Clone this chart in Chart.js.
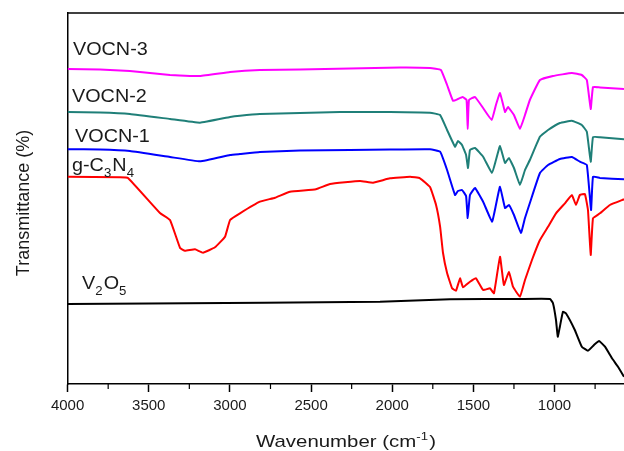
<!DOCTYPE html>
<html>
<head>
<meta charset="utf-8">
<script src="https://cdn.jsdelivr.net/npm/chart.js@4.4.0/dist/chart.umd.min.js"></script>
<style>
  html, body { margin: 0; padding: 0; background: #fff; }
  #wrap { width: 624px; height: 451px; }
</style>
</head>
<body>
<div id="wrap"><canvas id="ftir" width="624" height="451"></canvas></div>
<script>
// FTIR spectra - wavenumber (cm-1) and transmittance (offset, arbitrary units)
const xTicks = [4000, 3500, 3000, 2500, 2000, 1500, 1000];
const xMinorTicks = [3750, 3250, 2750, 2250, 1750, 1250, 750];

const vocn3Wn = [4000, 3800, 3616, 3369, 3184, 2999, 2815, 2568, 2260, 1952, 1767, 1700, 1662, 1625, 1595, 1566, 1542, 1535, 1527, 1490, 1440, 1387, 1361, 1336, 1305, 1287, 1250, 1213, 1182, 1152, 1090, 1010, 893, 832, 801, 777, 763, 720, 572];
const vocn3T  = [315, 314.5, 313, 309, 308, 312, 314, 314.5, 315.5, 316.5, 316, 314, 299, 283, 285, 287, 284, 255, 284, 287, 276, 264, 279, 291, 272, 277, 269, 255, 269, 284, 304, 308, 311, 309, 304, 275, 297, 296.5, 295];

const vocn2Wn = [4000, 3800, 3616, 3369, 3184, 2999, 2938, 2815, 2568, 2322, 2014, 1767, 1705, 1662, 1613, 1595, 1570, 1545, 1533, 1521, 1490, 1440, 1385, 1361, 1336, 1305, 1281, 1250, 1213, 1182, 1152, 1090, 1040, 967, 893, 832, 801, 777, 763, 720, 572];
const vocn2T  = [272, 271.5, 270, 265, 261.3, 267, 268.3, 270, 271, 272, 272, 271.3, 269, 254, 237.3, 243, 239, 229, 216, 234, 236, 227.3, 211, 224, 238, 221, 226, 216, 199, 214, 224, 247.3, 254, 261, 263.3, 259, 252.3, 222.3, 247, 246.7, 244.7];

const vocn1Wn = [4000, 3800, 3616, 3369, 3184, 2999, 2938, 2815, 2568, 2260, 2014, 1767, 1705, 1662, 1613, 1595, 1570, 1545, 1535, 1521, 1490, 1440, 1385, 1361, 1336, 1305, 1281, 1250, 1207, 1182, 1152, 1090, 1040, 967, 893, 844, 801, 775, 763, 720, 572];
const vocn1T  = [234.7, 234.5, 233, 227, 222.7, 229, 230, 232, 233.5, 234, 234.5, 234.7, 232.3, 214, 189, 193, 194, 188, 166, 189, 196, 182.3, 162.3, 179, 197.3, 176, 179, 169, 151, 166, 181, 211, 219, 225, 227, 222.3, 219, 174, 207.3, 206, 204.7];

const gcnWn = [4000, 3677, 3628, 3431, 3369, 3307, 3277, 3215, 3166, 3092, 3030, 2999, 2938, 2815, 2722, 2630, 2470, 2383, 2198, 2118, 2014, 1890, 1829, 1767, 1730, 1705, 1687, 1662, 1631, 1607, 1582, 1564, 1521, 1484, 1440, 1398, 1373, 1336, 1312, 1281, 1256, 1213, 1182, 1139, 1090, 1040, 991, 936, 893, 868, 844, 813, 794, 777, 763, 720, 659, 572];
const gcnT  = [207.3, 206.7, 206, 171, 164, 136, 133.3, 134.7, 131.3, 136.7, 147.3, 164, 170.7, 182.3, 186.3, 192.3, 194.7, 200, 203, 201.3, 205.7, 207.3, 205.7, 197, 179, 157.3, 131, 111, 95.7, 93.3, 105.7, 96.7, 102.3, 105.7, 94, 95.7, 90.7, 127.3, 99, 112.3, 97.3, 87.3, 104, 124, 144, 157.3, 170.7, 180.7, 189, 179, 189, 190, 174, 129, 165.7, 170.7, 179, 184.7];

const v2o5Wn = [4000, 3500, 2075, 1644, 1213, 1028, 1010, 991, 980, 967, 948, 930, 875, 832, 794, 757, 726, 689, 646, 609, 572];
const v2o5T  = [80, 80.5, 82.3, 84.7, 85, 85, 81, 64, 47.3, 57.3, 72.3, 70.7, 54, 37.3, 33.3, 39, 43, 37.3, 25.7, 17.3, 7.3];

const seriesNames = ['VOCN-3', 'VOCN-2', 'VOCN-1', 'g-C3N4', 'V2O5'];
const seriesColors = ['#ff00ff', '#1f7f78', '#0000ff', '#ff0000', '#000000'];

function toPoints(wn, t) {
  return wn.map((w, i) => ({ x: w, y: t[i] }));
}

const allSeries = [[vocn3Wn, vocn3T], [vocn2Wn, vocn2T], [vocn1Wn, vocn1T], [gcnWn, gcnT], [v2o5Wn, v2o5T]];

const FONT = '"Liberation Sans", Arial, sans-serif';
const TEXT = '#1a1a1a';

// text with sub/superscripts, drawn from the left at baseline y, stretched by hs
function richWidth(ctx, parts, size) {
  let w = 0;
  parts.forEach(([txt, kind]) => {
    ctx.font = (kind ? Math.round(size * 0.66) : size) + 'px ' + FONT;
    w += ctx.measureText(txt).width + (kind ? 1 : 0);
  });
  return w;
}
function drawRich(ctx, parts, x, y, size, hs) {
  ctx.save();
  ctx.translate(x, y);
  ctx.scale(hs, 1);
  let cx = 0;
  parts.forEach(([txt, kind]) => {
    const s = kind ? Math.round(size * 0.66) : size;
    ctx.font = s + 'px ' + FONT;
    const dy = kind === 'sub' ? size * 0.32 : kind === 'sup' ? -size * 0.42 : 0;
    ctx.fillText(txt, cx, dy);
    cx += ctx.measureText(txt).width + (kind ? 1 : 0);
  });
  ctx.restore();
}

const labelParts = [
  [['VOCN-3']],
  [['VOCN-2']],
  [['VOCN-1']],
  [['g-C'], ['3', 'sub'], ['N'], ['4', 'sub']],
  [['V'], ['2', 'sub'], ['O'], ['5', 'sub']]
];
const labelAnchors = [[3967, 329], [3973, 282], [3954, 242], [3973, 213], [3911, 95]];

const decorPlugin = {
  id: 'decor',
  afterDraw(chart) {
    const { ctx, chartArea: area, scales: { x, y } } = chart;
    ctx.save();
    // top frame line
    ctx.strokeStyle = '#000';
    ctx.lineWidth = 1.5;
    ctx.beginPath();
    ctx.moveTo(area.left, area.top);
    ctx.lineTo(area.right, area.top);
    ctx.stroke();
    // minor ticks
    ctx.lineWidth = 1.2;
    xMinorTicks.forEach(v => {
      const px = x.getPixelForValue(v);
      ctx.beginPath();
      ctx.moveTo(px, area.bottom);
      ctx.lineTo(px, area.bottom + 5);
      ctx.stroke();
    });
    // series labels
    ctx.fillStyle = TEXT;
    ctx.textBaseline = 'alphabetic';
    ctx.textAlign = 'left';
    labelParts.forEach((parts, i) => {
      const [wn, t] = labelAnchors[i];
      drawRich(ctx, parts, x.getPixelForValue(wn), y.getPixelForValue(t), 18, 1.1);
    });
    // x title
    const xt = [['Wavenumber (cm'], ['-1', 'sup'], [')']];
    const w = richWidth(ctx, xt, 17) * 1.2;
    drawRich(ctx, xt, 346 - w / 2, 447, 17, 1.2);
    // y title
    ctx.translate(29, 203);
    ctx.rotate(-Math.PI / 2);
    ctx.textAlign = 'center';
    ctx.font = '18px ' + FONT;
    ctx.fillText('Transmittance (%)', 0, 0);
    ctx.restore();
  }
};

new Chart(document.getElementById('ftir'), {
  type: 'line',
  data: {
    datasets: allSeries.map(([wn, t], i) => ({
      label: seriesNames[i],
      data: toPoints(wn, t),
      borderColor: seriesColors[i],
      borderWidth: 2,
      pointRadius: 0,
      tension: 0.1,
      fill: false
    }))
  },
  options: {
    responsive: false,
    animation: false,
    events: [],
    layout: { padding: { left: 0, top: 13, right: 0, bottom: 0 } },
    plugins: { legend: { display: false }, tooltip: { enabled: false } },
    scales: {
      x: {
        type: 'linear',
        reverse: true,
        min: 572,
        max: 4000,
        afterBuildTicks: s => { s.ticks = xTicks.map(v => ({ value: v })); },
        afterFit: s => { s.height = 67; },
        grid: { display: true, drawOnChartArea: false, drawTicks: true, tickLength: 8, tickWidth: 1.5, tickColor: '#000' },
        border: { display: true, color: '#000', width: 1.5 },
        ticks: {
          autoSkip: false,
          maxRotation: 0,
          padding: 5,
          color: TEXT,
          font: { family: FONT, size: 15 },
          callback: v => String(v)
        }
      },
      y: {
        min: 0,
        max: 371,
        afterFit: s => { s.width = 67.6; },
        grid: { display: false },
        border: { display: true, color: '#000', width: 1.5 },
        ticks: { display: false }
      }
    }
  },
  plugins: [decorPlugin]
});
</script>
</body>
</html>
